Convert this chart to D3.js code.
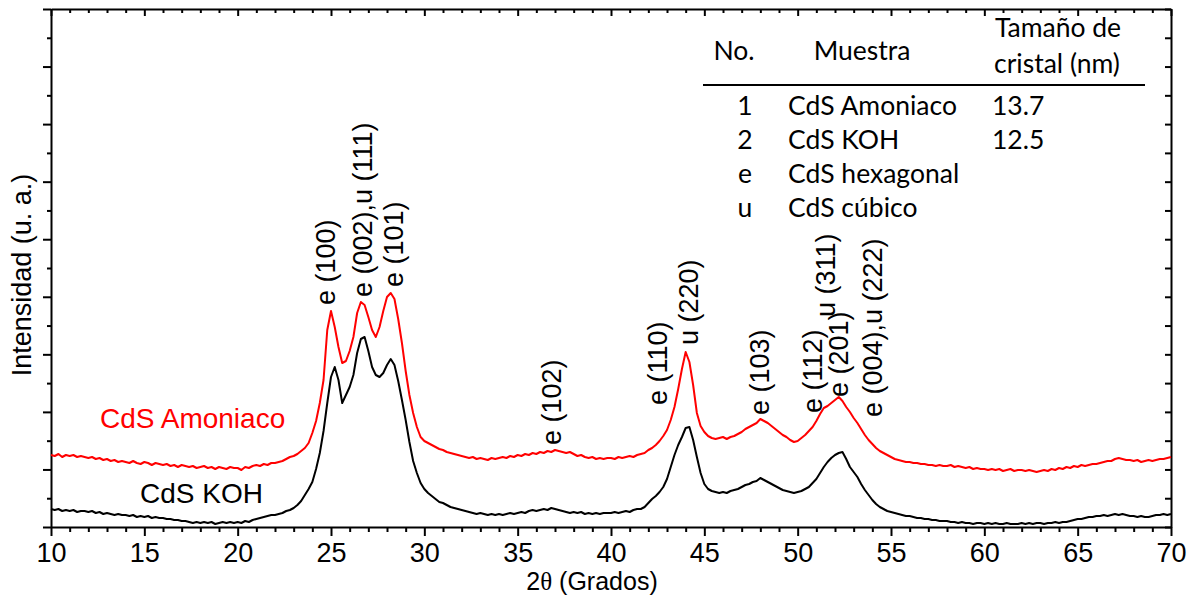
<!DOCTYPE html>
<html>
<head>
<meta charset="utf-8">
<script src="https://cdn.jsdelivr.net/npm/d3@7"></script>
<style>
body { margin: 0; background: #fff; }
svg text { font-family: "Liberation Sans", Arial, sans-serif; }
</style>
</head>
<body>
<div id="chart"></div>
<script>
// 2theta grid: from 10 to 70 degrees, one reading every 0.2 degrees
var thetaStart = 10;
var thetaStep = 0.2;

// intensity (a.u.)
var amoniaco = [
  72,71,73,70,72,71,72,70,71,70,   // 10
  69,70,68,69,67,68,66,67,65,66,   // 12
  65,64,66,64,63,65,64,62,64,63,   // 14
  62,63,61,62,60,62,61,60,61,59,   // 16
  60,61,59,60,58,60,59,58,60,59,   // 18
  59,57,60,59,61,62,61,63,62,64,   // 20
  64,65,66,68,70,71,73,76,79,84,   // 22
  94,106,124,147,197,216,200,180,164,166,   // 24
  176,190,214,225,222,210,197,190,200,216,  // 26
  230,234,228,208,184,156,132,114,100,90,   // 28
  86,84,82,80,78,77,75,74,73,72,   // 30
  71,70,69,70,68,69,68,67,69,68,   // 32
  69,70,69,71,70,72,71,73,72,74,   // 34
  73,75,74,76,75,77,76,75,74,75,   // 36
  73,71,72,70,69,70,68,69,68,69,   // 38
  69,68,70,69,70,71,70,72,73,74,   // 40
  77,79,82,86,91,97,107,120,138,158,   // 42
  175,165,142,114,101,95,91,89,88,89,  // 44
  90,88,90,91,93,95,98,100,102,104,    // 46
  108,106,104,101,98,95,92,90,87,85,   // 48
  86,89,92,96,100,106,113,119,121,124, // 50
  127,130,126,120,115,109,104,98,92,87, // 52
  83,79,76,74,72,70,68,67,66,65,   // 54
  65,64,64,63,63,62,62,61,62,61,   // 56
  61,62,60,61,60,59,60,58,59,58,   // 58
  58,57,58,57,58,56,57,58,56,57,   // 60
  57,56,57,56,55,56,57,56,58,57,   // 62
  59,58,60,59,61,60,62,61,62,63,   // 64
  63,64,65,66,66,68,69,68,67,67,   // 66
  66,67,65,66,67,66,67,68,68,69,   // 68
  70
];

var koh = [
  18,17,18,16,17,16,17,15,16,16,   // 10
  15,16,14,15,13,14,13,12,13,12,   // 12
  12,11,12,10,11,10,11,9,10,9,     // 14
  9,8,8,7,7,6,6,5,4,5,             // 16
  4,5,4,5,3,4,5,4,5,4,             // 18
  5,4,6,5,7,8,9,10,11,12,          // 20
  12,13,14,16,17,19,22,26,32,38,   // 22
  45,58,74,96,124,150,160,147,124,132,   // 24
  140,152,174,188,190,176,160,152,150,154, // 26
  162,168,162,146,127,107,85,66,54,44,   // 28
  38,34,31,28,25,24,22,20,19,18,   // 30
  17,16,15,14,13,14,13,12,13,12,   // 32
  13,12,13,14,13,14,15,14,16,17,   // 34
  16,17,18,17,19,18,17,16,15,14,   // 36
  15,14,15,13,14,13,14,13,14,14,   // 38
  14,15,14,15,16,15,17,18,18,20,   // 40
  24,28,31,35,40,48,60,72,82,90,   // 42
  99,100,87,70,54,43,38,36,35,34,  // 44
  35,34,36,37,38,40,42,43,45,46,   // 46
  49,47,45,43,41,39,37,36,35,34,   // 48
  35,36,38,40,44,48,54,60,65,69,   // 50
  72,74,75,68,60,55,50,43,37,32,   // 52
  27,23,20,18,16,15,14,13,12,11,   // 54
  11,10,9,9,8,8,7,7,6,6,           // 56
  6,5,5,4,5,4,4,3,4,4,             // 58
  3,4,3,4,3,3,4,3,3,3,             // 60
  4,3,4,3,4,4,3,4,4,5,             // 62
  4,5,5,6,7,8,8,9,10,10,           // 64
  11,11,12,11,12,13,12,13,12,11,   // 66
  11,10,11,10,10,11,12,12,13,12,   // 68
  13
];

var xTicks = [10, 15, 20, 25, 30, 35, 40, 45, 50, 55, 60, 65, 70];

// peak labels: text, 2theta, intensity where the text starts
var peakNames = ["e (100)", "e (002),u (111)", "e (101)", "e (102)", "e (110)", "u (220)",
                 "e (103)", "e (112)", "u (311)", "e (201)", "e (004),u (222)"];
var peakTheta = [24.68, 26.66, 28.32, 36.79, 42.46, 44.12, 47.93, 50.77, 51.46, 52.16, 53.98];
var peakStart = [222, 230, 240, 82, 122, 182, 112, 114, 210, 130, 110];

var tableNo = ["1", "2", "e", "u"];
var tableSample = ["CdS Amoniaco", "CdS KOH", "CdS hexagonal", "CdS cúbico"];
var tableSize = ["13.7", "12.5", "", ""];

var width = 1189, height = 598;
var margin = {top: 9, right: 18, bottom: 71, left: 51};
var plotW = width - margin.left - margin.right;
var plotH = height - margin.top - margin.bottom;

var svg = d3.select("#chart").append("svg")
    .attr("width", width)
    .attr("height", height);

var g = svg.append("g")
    .attr("transform", `translate(${margin.left},${margin.top})`);

var x = d3.scaleLinear().domain([10, 70]).range([0, plotW]);
var y = d3.scaleLinear().domain([0, 518]).range([plotH, 0]);

var yMajor = d3.range(0, 10).map(k => k * 518 / 9);
var yMinor = d3.range(0, 9).map(k => (k + 0.5) * 518 / 9);
var xMinor = d3.range(10, 71).filter(v => v % 5 !== 0);

function styleAxis(sel) {
  sel.selectAll("path, line").attr("stroke", "#000").attr("stroke-width", 2);
  sel.selectAll("text").attr("font-size", 27).attr("fill", "#000");
}

// bottom
g.append("g").attr("transform", `translate(0,${plotH})`)
  .call(d3.axisBottom(x).tickValues(xTicks).tickSize(9).tickSizeOuter(0).tickPadding(7))
  .call(styleAxis);
g.append("g").attr("transform", `translate(0,${plotH})`)
  .call(d3.axisBottom(x).tickValues(xMinor).tickSize(5).tickFormat(""))
  .call(styleAxis).select(".domain").remove();
// top
g.append("g")
  .call(d3.axisTop(x).tickValues(xTicks).tickSize(-7).tickSizeOuter(0).tickFormat(""))
  .call(styleAxis);
g.append("g")
  .call(d3.axisTop(x).tickValues(xMinor).tickSize(-4).tickFormat(""))
  .call(styleAxis).select(".domain").remove();
// left
g.append("g")
  .call(d3.axisLeft(y).tickValues(yMajor).tickSize(8).tickSizeOuter(0).tickFormat(""))
  .call(styleAxis);
g.append("g")
  .call(d3.axisLeft(y).tickValues(yMinor).tickSize(4).tickFormat(""))
  .call(styleAxis).select(".domain").remove();
// right
g.append("g").attr("transform", `translate(${plotW},0)`)
  .call(d3.axisRight(y).tickValues(yMajor).tickSize(-6).tickSizeOuter(0).tickFormat(""))
  .call(styleAxis);
g.append("g").attr("transform", `translate(${plotW},0)`)
  .call(d3.axisRight(y).tickValues(yMinor).tickSize(-6).tickFormat(""))
  .call(styleAxis).select(".domain").remove();

// curves
var line = d3.line()
  .x((d, i) => x(thetaStart + i * thetaStep))
  .y(d => y(d));

g.append("path").datum(koh)
  .attr("d", line).attr("fill", "none")
  .attr("stroke", "#000").attr("stroke-width", 2).attr("stroke-linejoin", "round");
g.append("path").datum(amoniaco)
  .attr("d", line).attr("fill", "none")
  .attr("stroke", "#ff0000").attr("stroke-width", 2).attr("stroke-linejoin", "round");

// sample names
g.append("text").attr("x", 100 - margin.left).attr("y", 428 - margin.top)
  .attr("font-size", 28).attr("fill", "#ff0000").text("CdS Amoniaco");
g.append("text").attr("x", 140 - margin.left).attr("y", 503 - margin.top)
  .attr("font-size", 28).attr("fill", "#000").text("CdS KOH");

// peak labels
g.selectAll(".peak").data(peakNames).enter().append("text")
  .attr("class", "peak")
  .attr("transform", (d, i) => `translate(${x(peakTheta[i])},${y(peakStart[i])}) rotate(-90)`)
  .attr("dy", "0.36em")
  .attr("font-size", 27)
  .attr("fill", "#000")
  .text(d => d);

// axis titles
var xt = svg.append("text")
  .attr("x", 592).attr("y", 590)
  .attr("text-anchor", "middle")
  .attr("font-size", 25);
xt.append("tspan").text("2");
xt.append("tspan").attr("font-family", "Liberation Serif, serif").text("θ");
xt.append("tspan").text(" (Grados)");

svg.append("text")
  .attr("transform", "translate(31,275) rotate(-90)")
  .attr("text-anchor", "middle")
  .attr("font-size", 27)
  .text("Intensidad (u. a.)");

// table
var tbl = svg.append("g").attr("font-size", 26.5);
function tt(txt, tx, ty, anchor) {
  tbl.append("text").attr("x", tx).attr("y", ty)
    .attr("text-anchor", anchor).style("font-family", "Lato, sans-serif").text(txt);
}
tt("No.", 734, 60, "middle");
tt("Muestra", 862, 60, "middle");
tt("Tamaño de", 1058, 37, "middle");
tt("cristal (nm)", 1057, 73, "middle");
tbl.append("line").attr("x1", 703).attr("x2", 1145).attr("y1", 85).attr("y2", 85)
  .attr("stroke", "#000").attr("stroke-width", 2);
tableNo.forEach(function(d, i) {
  var ty = 115 + i * 34;
  tt(d, 745, ty, "middle");
  tt(tableSample[i], 788, ty, "start");
  tt(tableSize[i], 992, ty, "start");
});
</script>
</body>
</html>
